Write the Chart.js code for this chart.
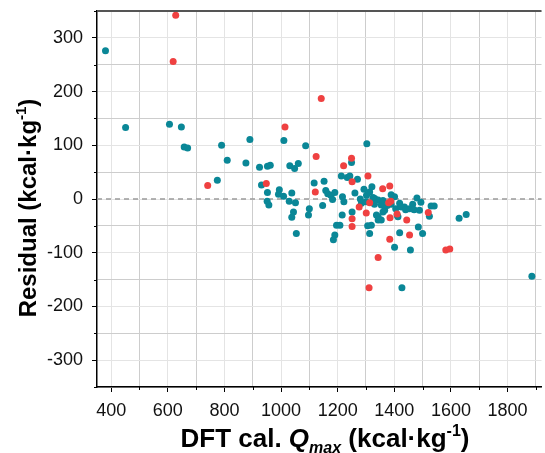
<!DOCTYPE html>
<html><head><meta charset="utf-8">
<script src="https://cdn.jsdelivr.net/npm/chart.js@4.4.1/dist/chart.umd.min.js"></script>
<style>html,body{margin:0;padding:0;background:#fff;}#wrap{width:545px;height:453px;position:relative;}</style>
</head><body><div id="wrap"><canvas id="c" width="545" height="453"></canvas></div>
<script>
// ---- data ----
const redX = [628,619,1014,741,948,1142,1124,1249,1221,1251,1307,1359,1384,1121,1313,1276,1380,1301,1410,1385,1251,1251,1444,1520,1454,1384,1343,1311,1582,1596,1388];
const redY = [342,256,134,25,29,187,79,76,62,32,43,19,24,13,-7,-15,-7,-26,-28,-35,-37,-51,-39,-25,-67,-75,-109,-165,-95,-93,-4];
const tealX = [380,451,606,648,658,670,775,790,810,876,890,924,931,952,962,952,951,957,994,991,1009,1010,1031,1048,1061,1038,1029,1051,1044,1038,1054,1087,1100,1097,1117,1152,1158,1165,1176,1182,1147,1196,1190,1185,1213,1234,1243,1249,1270,1303,1217,1222,1190,1261,1293,1313,1321,1302,1331,1284,1343,1354,1366,1360,1337,1343,1354,1343,1319,1306,1313,1216,1251,1208,1389,1401,1419,1389,1410,1413,1419,1401,1457,1436,1454,1465,1470,1480,1494,1489,1485,1500,1524,1530,1541,1629,1654,1427,1886,1280,1300,1330,1375,1405,1425,1440,1360,1325];
const tealY = [276,133,139,134,97,95,35,100,72,67,111,59,26,61,63,12,-4,-11,17,9,5,109,62,57,66,11,-4,-7,-24,-34,-64,99,-18,-30,30,33,16,10,7,-1,-12,-49,-67,-76,43,40,43,68,37,103,4,-5,12,11,18,13,23,7,1,-8,-2,-11,-21,-24,-30,-33,-39,-39,-49,-50,-64,-30,-24,-49,8,4,-8,-10,-30,-33,-63,-90,-95,-15,-18,-10,-20,2,-6,-21,-52,-64,-32,-13,-13,-36,-29,-165,-144,0,-5,-10,-12,-18,-15,-20,-3,3];
const xTickValues = [400,500,600,700,800,900,1000,1100,1200,1300,1400,1500,1600,1700,1800,1900];
const xTickLabels = [400,600,800,1000,1200,1400,1600,1800];
const yTickValues = [-350,-300,-250,-200,-150,-100,-50,0,50,100,150,200,250,300,350];
const yTickLabels = [-300,-200,-100,0,100,200,300];
const xRange = [350,1920];
const yRange = [-350,350];
const zeroLine = 0;

const toPts = (xs, ys) => xs.map((x, i) => ({x: x, y: ys[i]}));
const FONT = "'Liberation Sans', Arial, Helvetica, sans-serif";
const TEAL = '#0a8797', RED = '#ef4141';

function drawRich(ctx, segs) {
  let w = 0;
  segs.forEach(s => { ctx.font = s.f; s.w = ctx.measureText(s.t).width; w += s.w; });
  let x = -w / 2;
  segs.forEach(s => { ctx.font = s.f; ctx.fillText(s.t, x, s.dy || 0); x += s.w; });
}

const decor = {
  id: 'decor',
  beforeDatasetsDraw(chart) {
    const {ctx, chartArea: a, scales} = chart;
    const y0 = scales.y.getPixelForValue(zeroLine);
    ctx.save();
    ctx.strokeStyle = '#9a9a9a'; ctx.lineWidth = 1.3; ctx.setLineDash([5, 4]);
    ctx.beginPath(); ctx.moveTo(a.left, y0); ctx.lineTo(a.right, y0); ctx.stroke();
    ctx.restore();
  },
  afterDraw(chart) {
    const {ctx, chartArea: a, scales} = chart;
    ctx.save();
    ctx.strokeStyle = '#555'; ctx.lineWidth = 2;
    ctx.beginPath(); ctx.moveTo(a.left, a.top); ctx.lineTo(a.right, a.top); ctx.stroke();
    ctx.strokeStyle = '#000'; ctx.lineWidth = 1;
    scales.x.ticks.forEach(t => {
      if (xTickLabels.includes(t.value)) return;
      const px = Math.round(scales.x.getPixelForValue(t.value)) + 0.5;
      ctx.beginPath(); ctx.moveTo(px, a.bottom); ctx.lineTo(px, a.bottom + 3); ctx.stroke();
    });
    scales.y.ticks.forEach(t => {
      if (yTickLabels.includes(t.value)) return;
      const py = Math.round(scales.y.getPixelForValue(t.value)) + 0.5;
      ctx.beginPath(); ctx.moveTo(a.left, py); ctx.lineTo(a.left - 3, py); ctx.stroke();
    });
    ctx.fillStyle = '#000'; ctx.textBaseline = 'alphabetic';
    const big = 'bold 24px ' + FONT, sm = 'bold 15px ' + FONT;
    ctx.save();
    ctx.translate(36, 208);
    ctx.rotate(-Math.PI / 2);
    drawRich(ctx, [{t: 'Residual (kcal·kg', f: big}, {t: '-1', f: sm, dy: -10}, {t: ')', f: big}]);
    ctx.restore();
    const big2 = 'bold 26px ' + FONT, sm2 = 'bold 16px ' + FONT;
    ctx.save();
    ctx.translate(325, 447);
    drawRich(ctx, [{t: 'DFT cal. ', f: big2}, {t: 'Q', f: 'italic ' + big2}, {t: 'max', f: 'italic ' + sm2, dy: 6},
                   {t: ' (kcal·kg', f: big2}, {t: '-1', f: sm2, dy: -11}, {t: ')', f: big2}]);
    ctx.restore();
    ctx.restore();
  }
};

new Chart(document.getElementById('c'), {
  type: 'scatter',
  data: {
    datasets: [
      {label: 'red', data: toPts(redX, redY), backgroundColor: RED, borderWidth: 0, pointRadius: 3.5, pointHoverRadius: 3.5},
      {label: 'teal', data: toPts(tealX, tealY), backgroundColor: TEAL, borderWidth: 0, pointRadius: 3.5, pointHoverRadius: 3.5}
    ]
  },
  options: {
    responsive: false, animation: false, devicePixelRatio: 1,
    layout: {padding: {top: 11, right: 0, left: 0, bottom: 0}},
    plugins: {legend: {display: false}, tooltip: {enabled: false}},
    scales: {
      x: {
        type: 'linear', min: xRange[0], max: xRange[1],
        afterBuildTicks: s => { s.ticks = xTickValues.map(v => ({value: v})); },
        afterFit: s => { s.height = 66; s.paddingLeft = 0; s.paddingRight = 0; },
        grid: {
          color: c => (c.tick && xTickLabels.includes(c.tick.value)) ? '#e4e4e4' : '#cdcdcd',
          lineWidth: 1, tickLength: 5,
          tickColor: c => (c.tick && xTickLabels.includes(c.tick.value)) ? '#000' : 'rgba(0,0,0,0)'
        },
        border: {color: '#000', width: 1.5},
        ticks: {autoSkip: false, maxRotation: 0, padding: 8, color: '#111', font: {family: FONT, size: 18},
                callback: v => xTickLabels.includes(v) ? String(v) : ''}
      },
      y: {
        type: 'linear', min: yRange[0], max: yRange[1],
        afterBuildTicks: s => { s.ticks = yTickValues.map(v => ({value: v})); },
        afterFit: s => { s.width = 97; s.paddingTop = 0; s.paddingBottom = 0; },
        grid: {
          color: c => (c.tick && yTickLabels.includes(c.tick.value)) ? '#e4e4e4' : '#cdcdcd',
          lineWidth: 1, tickLength: 5,
          tickColor: c => (c.tick && yTickLabels.includes(c.tick.value)) ? '#000' : 'rgba(0,0,0,0)'
        },
        border: {color: '#000', width: 1.5},
        ticks: {autoSkip: false, padding: 9, color: '#111', font: {family: FONT, size: 18},
                callback: v => yTickLabels.includes(v) ? String(v) : ''}
      }
    }
  },
  plugins: [decor]
});
</script></body></html>
